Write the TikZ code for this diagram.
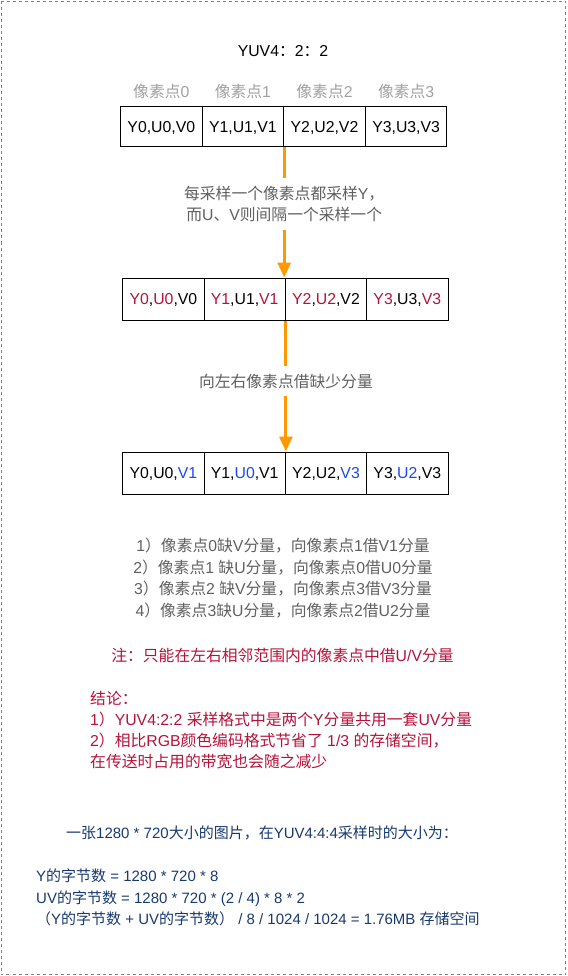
\documentclass[tikz,border=0pt]{standalone}
\usepackage{fontspec}
\setmainfont{Liberation Sans}
\newfontfamily\cjkf{Noto Sans CJK SC}
\newfontfamily\latf{Liberation Sans}
\usetikzlibrary{arrows.meta}
% automatic switch to the CJK font for CJK characters
\XeTeXinterchartokenstate=1
\newXeTeXintercharclass\CJKcls
\newcount\mycnt
\def\setcjkrange#1#2{\mycnt=#1\relax\loop\XeTeXcharclass\mycnt=\CJKcls\relax\ifnum\mycnt<#2\relax\advance\mycnt by 1\repeat}
\setcjkrange{"3000}{"303F}
\setcjkrange{"4E00}{"9FFF}
\setcjkrange{"FF00}{"FFEF}
\XeTeXinterchartoks 0 \CJKcls = {\cjkf}
\XeTeXinterchartoks 4095 \CJKcls = {\cjkf}
\XeTeXinterchartoks \CJKcls 0 = {\latf}
\XeTeXinterchartoks \CJKcls 4095 = {\latf}
\definecolor{lblgray}{RGB}{160,160,160}
\definecolor{midgray}{RGB}{96,96,96}
\definecolor{myred}{HTML}{B5123A}
\definecolor{myblue}{HTML}{1A47F0}
\definecolor{navy}{HTML}{17396F}
\definecolor{arrorange}{HTML}{FF9900}
\definecolor{bordergray}{RGB}{128,128,128}
\begin{document}
\begin{tikzpicture}[x=1pt,y=-1pt,
  every node/.style={font=\fontsize{15.8}{21.7}\selectfont},
  cell/.style={draw=black,line width=1pt,minimum width=81.4pt,minimum height=42pt,inner sep=0pt,text height=11.3pt,text depth=0pt},
  arr/.style={draw=arrorange,line width=3pt,-{Triangle[width=13pt,length=15pt]}},
  albl/.style={fill=white,text=midgray,align=center,inner xsep=3pt,inner ysep=8pt},
  lbl/.style={text=lblgray,anchor=base,inner sep=0pt},
  note/.style={text=midgray,anchor=base,inner sep=0pt},
  concl/.style={text=myred,anchor=base west,inner sep=0pt},
  calc/.style={text=navy,anchor=base west,inner sep=0pt,font=\fontsize{15}{21.7}\selectfont}]
\useasboundingbox (0,0) rectangle (567,976);
\draw[bordergray,line width=1pt,dash pattern=on 3pt off 3pt] (1.5,1.5) rectangle (565.5,974.5);

\node[anchor=base,inner sep=0pt] (title) at (283,56.3) {YUV4：2：2};

% table 1
\node[cell,minimum width=81.6pt,minimum height=40pt] (a1) at (161.3,126.7) {Y0,U0,V0};
\node[cell,minimum width=81.6pt,minimum height=40pt] (a2) at (242.9,126.7) {Y1,U1,V1};
\node[cell,minimum width=81.6pt,minimum height=40pt] (a3) at (324.5,126.7) {Y2,U2,V2};
\node[cell,minimum width=81.6pt,minimum height=40pt] (a4) at (406.1,126.7) {Y3,U3,V3};
\node[lbl] (l0) at (161.3,97.3) {像素点0};
\node[lbl] (l1) at (242.9,97.3) {像素点1};
\node[lbl] (l2) at (324.5,97.3) {像素点2};
\node[lbl] (l3) at (406.1,97.3) {像素点3};

% table 2
\node[cell] (b1) at (163.4,299) {\textcolor{myred}{Y0},\textcolor{myred}{U0},V0};
\node[cell] (b2) at (244.7,299) {\textcolor{myred}{Y1},U1,\textcolor{myred}{V1}};
\node[cell] (b3) at (326.0,299) {\textcolor{myred}{Y2},\textcolor{myred}{U2},V2};
\node[cell] (b4) at (407.3,299) {\textcolor{myred}{Y3},U3,\textcolor{myred}{V3}};

% table 3
\node[cell] (c1) at (163.4,473) {Y0,U0,\textcolor{myblue}{V1}};
\node[cell] (c2) at (244.7,473) {Y1,\textcolor{myblue}{U0},V1};
\node[cell] (c3) at (326.0,473) {Y2,U2,\textcolor{myblue}{V3}};
\node[cell] (c4) at (407.3,473) {Y3,\textcolor{myblue}{U2},V3};

% arrows
\draw[arr] (a2.south east) -- node[albl,pos=0.436] (lab1) {每采样一个像素点都采样Y，\\而U、V则间隔一个采样一个} (a2.south east |- b2.north);
\draw[arr] (b2.south east) -- node[albl,pos=0.462] (lab2) {向左右像素点借缺少分量} (c2.north east);

% notes
\node[note] (n1) at (283,551.5) {1）像素点0缺V分量，向像素点1借V1分量};
\node[note] (n2) at (283,573.2) {2）像素点1 缺U分量，向像素点0借U0分量};
\node[note] (n3) at (283,594.9) {3）像素点2 缺V分量，向像素点3借V3分量};
\node[note] (n4) at (283,616.6) {4）像素点3缺U分量，向像素点2借U2分量};
\node[note,text=myred] (rn) at (282.5,661.5) {注：只能在左右相邻范围内的像素点中借U/V分量};

% conclusion
\node[concl] (k1) at (90,704) {结论：};
\node[concl] (k2) at (90,725.2) {1）YUV4:2:2 采样格式中是两个Y分量共用一套UV分量};
\node[concl] (k3) at (90,746.4) {2）相比RGB颜色编码格式节省了 1/3 的存储空间，};
\node[concl] (k4) at (90,767.6) {在传送时占用的带宽也会随之减少};

% calculation
\node[calc] (s1) at (66,838.5) {一张1280 * 720大小的图片，在YUV4:4:4采样时的大小为：};
\node[calc] (s2) at (36,881.5) {Y的字节数 = 1280 * 720 * 8};
\node[calc] (s3) at (36,903) {UV的字节数 = 1280 * 720 * (2 / 4) * 8 * 2};
\node[calc] (s4) at (36,924.5) {（Y的字节数 + UV的字节数） / 8 / 1024 / 1024 = 1.76MB 存储空间};
\end{tikzpicture}
\end{document}
